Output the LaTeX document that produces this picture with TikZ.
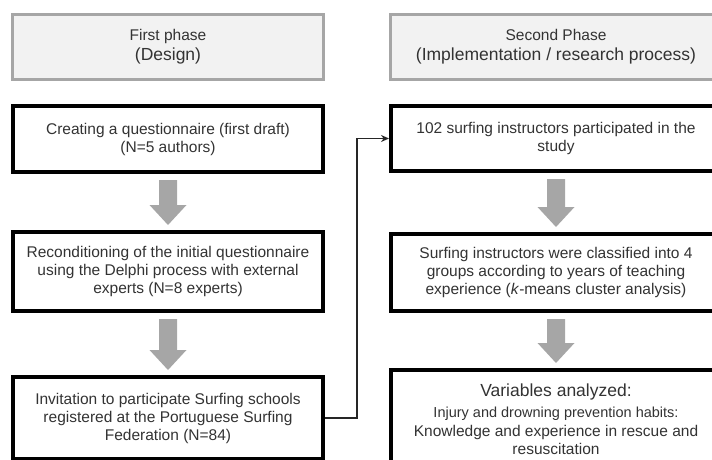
\documentclass[tikz,border=0pt]{standalone}
\usepackage{fontspec}
\setmainfont{Liberation Sans}
\usetikzlibrary{arrows, arrows.meta, calc, positioning}
\tikzset{>=stealth}

\tikzset{
    phase/.style={draw=black!35, line width=3pt, fill=black!5, align=center, minimum height=65pt, text=black!80, font=\fontsize{15.5}{20}\selectfont},
    stepbox/.style={draw=black, line width=4pt, fill=white, align=center, text=black!80, font=\fontsize{15.5}{18}\selectfont},
    downarrow/.style={fill=black!35},
    link/.style={-{Stealth[length=8pt, width=7pt]}, draw=black!85, line width=1.2pt}
}
\newcommand{\bigline}{\fontsize{17.5}{20}\selectfont}

\begin{document}
\begin{tikzpicture}[x=1pt, y=1pt, >=stealth]
    \useasboundingbox (0,0) rectangle (712,459);
    \clip (0,0) rectangle (712,459);

    % phase headers
    \node[phase, minimum width=311pt] (p1) at (168,412) {First phase\\{\bigline (Design)}};
    \node[phase, minimum width=331pt] (p2) at (556,412) {Second Phase\\{\bigline (Implementation / research process)}};

    % first phase
    \node[stepbox, minimum width=310pt, minimum height=66pt] (c1) at (168,320) {Creating a questionnaire (first draft)\\(N=5 authors)};
    \node[stepbox, minimum width=310pt, minimum height=79pt] (c2) at (168,187.5) {Reconditioning of the initial questionnaire\\using the Delphi process with external\\experts (N=8 experts)};
    \node[stepbox, minimum width=310pt, minimum height=82pt] (c3) at (168,41) {Invitation to participate Surfing schools\\registered at the Portuguese Surfing\\Federation (N=84)};

    % second phase
    \node[stepbox, minimum width=330pt, minimum height=65pt] (r1) at (556,320.5) {102 surfing instructors participated in the\\study};
    \node[stepbox, minimum width=330pt, minimum height=77pt] (r2) at (556,186.5) {Surfing instructors were classified into 4\\groups according to years of teaching\\experience (\textit{k}-means cluster analysis)};
    \node[stepbox, minimum width=330pt, minimum height=98pt, font=\fontsize{15.5}{18.5}\selectfont] (r3) at (556,40) {{\bigline Variables analyzed:}\\[3pt]{\fontsize{14.5}{18.5}\selectfont Injury and drowning prevention habits:}\\Knowledge and experience in rescue and\\resuscitation};

    % gray arrows between steps
    \foreach \a/\b in {c1/c2, c2/c3, r1/r2, r2/r3}
    {
        \fill[downarrow] ($(\a.south)+(-9,-6)$) -- ($(\a.south)+(9,-6)$) -- ($(\b.north)+(9,25)$) -- ($(\b.north)+(18.5,25)$) -- ($(\b.north)+(0,5)$) -- ($(\b.north)+(-18.5,25)$) -- ($(\b.north)+(-9,25)$) -- cycle;
    }

    % link to second phase
    \coordinate (turn) at ($(c3.east)!.5!(r1.west)$);
    \draw[link] (c3.east) -| (turn) |- (r1.west);
\end{tikzpicture}
\end{document}
